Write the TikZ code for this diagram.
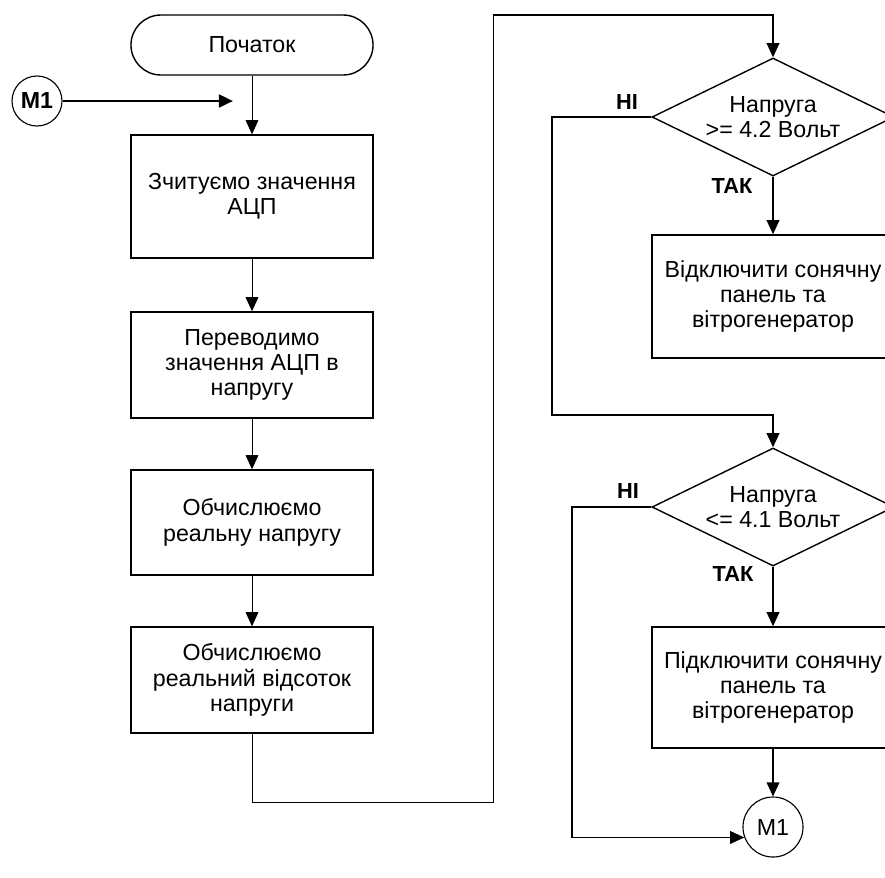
\documentclass[tikz,border=0pt]{standalone}
\usepackage{fontspec}
\setmainfont{Liberation Sans}
\usetikzlibrary{shapes.geometric,arrows.meta}

\begin{document}
\begin{tikzpicture}[x=0.025cm,y=-0.025cm,
        font=\fontsize{16.5}{18}\selectfont,
        blk/.style={draw,line width=1pt,align=center,minimum width=6.05cm},
        cond/.style={draw,diamond,line width=1pt,align=center,aspect=2,inner sep=0pt,minimum width=6.05cm,minimum height=2.95cm},
        conn/.style={draw,circle,line width=0.8pt,inner sep=0pt},
        lbl/.style={font=\fontsize{15.5}{17}\selectfont\bfseries},
        arr/.style={-{Triangle[length=10pt,width=9pt]}}]
    \useasboundingbox (0,0) rectangle (885,877);
    \clip (0,0) rectangle (885,877);
    % left column
    \node[blk,rounded corners=0.75cm,minimum height=1.5cm] (start) at (252,45) {Початок};
    \node[conn,minimum size=1.25cm,font=\fontsize{16.5}{18}\selectfont\bfseries] (m1a) at (37,101) {M1};
    \coordinate (join) at (233,101);
    \node[blk,minimum height=3.075cm] (read) at (252,196.5) {Зчитуємо значення\\АЦП};
    \node[blk,minimum height=2.65cm] (conv) at (252,365) {Переводимо\\значення АЦП в\\напругу};
    \node[blk,minimum height=2.625cm] (volt) at (252,522.5) {Обчислюємо\\реальну напругу};
    \node[blk,minimum height=2.65cm] (perc) at (252,680) {Обчислюємо\\реальний відсоток\\напруги};
    \draw[line width=2pt,arr] (m1a) -- (join);
    \draw[line width=0.6pt,arr] (start) -- (read);
    \draw[line width=0.6pt,arr] (read) -- (conv);
    \draw[line width=0.6pt,arr] (conv) -- (volt);
    \draw[line width=0.6pt,arr] (volt) -- (perc);
    % right column
    \node[cond] (hi) at (773,117) {Напруга\\>= 4.2 Вольт};
    \node[blk,minimum height=3.075cm] (off) at (773,296.5) {Відключити сонячну\\панель та\\вітрогенератор};
    \node[cond] (lo) at (773,507) {Напруга\\<= 4.1 Вольт};
    \node[blk,minimum height=3.025cm] (on) at (773,687.5) {Підключити сонячну\\панель та\\вітрогенератор};
    \node[conn,minimum size=1.5cm] (m1b) at (773,827) {M1};
    \node[lbl] (nohi) at (627,102) {НІ};
    \node[lbl] (yeshi) at (732,186) {ТАК};
    \node[lbl] (nolo) at (628,491) {НІ};
    \node[lbl] (yeslo) at (733,574) {ТАК};
    \draw[line width=0.6pt] (perc.south) -- (252,802) -- (493,802) -- (493,15);
    \draw[line width=1pt,arr] (493,15) -- (773,15) -- (hi.north);
    \draw[line width=1pt,arr] (hi) -- (off);
    \draw[line width=1pt,arr] (hi.west) -- (552,117) -- (552,415) -- (773,415) -- (lo.north);
    \draw[line width=1pt,arr] (lo) -- (on);
    \draw[line width=1pt,arr] (on) -- (m1b);
    \draw[line width=1pt,arr] (lo.west) -- (572,507) |- (m1b.200);
\end{tikzpicture}
\end{document}
